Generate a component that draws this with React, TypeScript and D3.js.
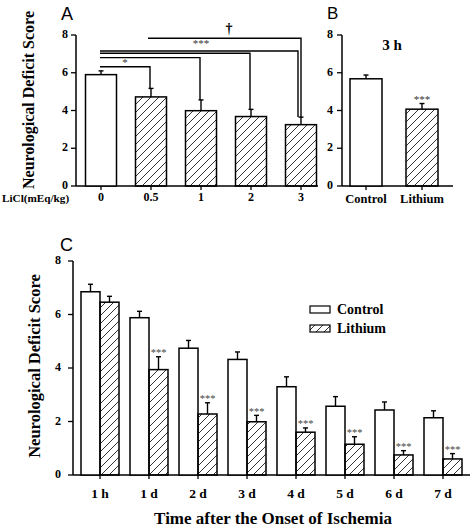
import React from "react";
import * as d3 from "d3";

const doses = ["0", "0.5", "1", "2", "3"];
const doseMeans = [5.9, 4.72, 3.99, 3.68, 3.25];
const doseErrs = [0.2, 0.45, 0.57, 0.38, 0.4];

const bGroups = ["Control", "Lithium"];
const bMeans = [5.68, 4.07];
const bErrs = [0.2, 0.3];
const bSig = ["", "***"];

const times = ["1 h", "1 d", "2 d", "3 d", "4 d", "5 d", "6 d", "7 d"];
const controlMeans = [6.85, 5.88, 4.74, 4.32, 3.3, 2.57, 2.43, 2.14];
const controlErrs = [0.28, 0.24, 0.29, 0.28, 0.37, 0.36, 0.3, 0.26];
const lithiumMeans = [6.46, 3.94, 2.28, 1.99, 1.6, 1.15, 0.75, 0.6];
const lithiumErrs = [0.22, 0.48, 0.42, 0.24, 0.16, 0.28, 0.16, 0.2];
const lithiumSig = ["", "***", "***", "***", "***", "***", "***", "***"];

const yTicks = [0, 2, 4, 6, 8];

// significance brackets for panel A: from dose, to dose, level (score units)
const brackets = [
  { from: "0", to: "0.5", level: 6.32, label: "*" },
  { from: "0", to: "1", level: 6.8, label: "" },
  { from: "0", to: "2", level: 7.03, label: "" },
  { from: "0", to: "3", level: 7.15, label: "***" },
  { from: "0.5", to: "3", level: 7.83, label: "\u2020" },
];

const SERIF = "'Liberation Serif', 'Times New Roman', serif";
const SANS = "'Liberation Sans', Arial, sans-serif";

function ErrBar({ x, y0, y1 }: { x: number; y0: number; y1: number }) {
  return (
    <g stroke="#000" strokeWidth={1.4}>
      <line x1={x} x2={x} y1={y0} y2={y1} />
      <line x1={x - 2.5} x2={x + 2.5} y1={y1} y2={y1} />
    </g>
  );
}

function YAxis({ x, y, tickLen = 5, gap = 3, fontSize = 12 }: { x: number; y: d3.ScaleLinear<number, number>; tickLen?: number; gap?: number; fontSize?: number }) {
  const [r0, r1] = y.range();
  return (
    <g>
      <line x1={x} x2={x} y1={r0} y2={r1} stroke="#000" strokeWidth={1.5} />
      {yTicks.map((t) => (
        <g key={t}>
          <line x1={x - tickLen} x2={x} y1={y(t)} y2={y(t)} stroke="#000" strokeWidth={1.3} />
          <text x={x - tickLen - gap} y={y(t) + 3} textAnchor="end" fontFamily={SERIF} fontWeight="bold" fontSize={fontSize}>
            {t}
          </text>
        </g>
      ))}
    </g>
  );
}

export default function App() {
  // Panel A
  const yA = d3.scaleLinear().domain([0, 8]).range([186, 35]);
  const xA = d3.scalePoint<string>().domain(doses).range([76, 326]).padding(0.5);
  const bwA = 31;

  // Panel B
  const xB = d3.scalePoint<string>().domain(bGroups).range([366, 422]);
  const bwB = 32;

  // Panel C
  const yC = d3.scaleLinear().domain([0, 8]).range([475, 261]);
  const xC = d3.scaleBand<string>().domain(times).range([75.5, 467.5]);
  const xSub = d3.scaleBand<string>().domain(["Control", "Lithium"]).range([5.5, 43.5]);
  const bwC = xSub.bandwidth();

  return (
    <div style={{ position: "absolute", left: 0, top: 0 }}>
      <svg width={471} height={529} style={{ display: "block", background: "#fff" }}>
        <defs>
          <pattern id="hatch" patternUnits="userSpaceOnUse" width={8} height={8}>
            <path d="M-2,2 l4,-4 M0,8 l8,-8 M6,10 l4,-4" stroke="#000" strokeWidth={0.8} />
          </pattern>
        </defs>

        {/* ---------- Panel A ---------- */}
        <text x={61} y={20} fontFamily={SANS} fontSize={18}>A</text>
        <text
          transform={`translate(34,${100}) rotate(-90)`}
          textAnchor="middle"
          fontFamily={SERIF}
          fontWeight="bold"
          fontSize={16}
        >
          Neurological Deficit Score
        </text>
        <YAxis x={76} y={yA} />
        <line x1={76} x2={318} y1={186} y2={186} stroke="#000" strokeWidth={1.5} />
        {doses.map((d, i) => {
          const cx = xA(d)!;
          return (
            <g key={d}>
              <ErrBar x={cx} y0={yA(doseMeans[i])} y1={yA(doseMeans[i] + doseErrs[i])} />
              <rect
                x={cx - bwA / 2}
                y={yA(doseMeans[i])}
                width={bwA}
                height={186 - yA(doseMeans[i])}
                fill={i === 0 ? "#fff" : "url(#hatch)"}
                stroke="#000"
                strokeWidth={1.5}
              />
              <line x1={cx} x2={cx} y1={186} y2={190} stroke="#000" strokeWidth={1.3} />
              <text x={cx} y={201} textAnchor="middle" fontFamily={SERIF} fontWeight="bold" fontSize={12}>
                {d}
              </text>
            </g>
          );
        })}
        <text x={2} y={202} fontFamily={SERIF} fontWeight="bold" fontSize={11.2}>LiCl(mEq/kg)</text>
        {brackets.map((b, k) => {
          const i = doses.indexOf(b.to);
          const isDagger = b.label === "\u2020";
          const x0 = isDagger ? xA(b.from)! - 3 : xA(b.from)! - 1;
          const x1 = xA(b.to)! + (b.to === "3" ? (isDagger ? 0 : -3) : -1);
          const yl = yA(b.level);
          const yEnd = yA(doseMeans[i] + doseErrs[i]);
          return (
            <g key={k}>
              <path d={`M${x0},${yl} H${x1} V${yEnd}`} fill="none" stroke="#000" strokeWidth={1.4} />
              {b.label === "*" && (
                <text x={(x0 + x1) / 2} y={yl - 1} textAnchor="middle" fontFamily={SERIF} fontSize={11} fill="#333">*</text>
              )}
              {b.label === "***" && (
                <text x={201} y={yA(7.6) + 4} textAnchor="middle" fontFamily={SERIF} fontSize={11} fill="#333">***</text>
              )}
              {isDagger && (
                <text x={229} y={33} textAnchor="middle" fontFamily={SERIF} fontWeight="bold" fontSize={14}>{"\u2020"}</text>
              )}
            </g>
          );
        })}

        {/* ---------- Panel B ---------- */}
        <text x={327} y={19} fontFamily={SANS} fontSize={17}>B</text>
        <YAxis x={342} y={yA} gap={4} />
        <line x1={342} x2={453} y1={186} y2={186} stroke="#000" strokeWidth={1.5} />
        <text x={392} y={50} textAnchor="middle" fontFamily={SERIF} fontWeight="bold" fontSize={15}>3 h</text>
        {bGroups.map((g, i) => {
          const cx = xB(g)!;
          const top = yA(bMeans[i] + bErrs[i]);
          return (
            <g key={g}>
              <ErrBar x={cx} y0={yA(bMeans[i])} y1={top} />
              <rect
                x={cx - bwB / 2}
                y={yA(bMeans[i])}
                width={bwB}
                height={186 - yA(bMeans[i])}
                fill={i === 0 ? "#fff" : "url(#hatch)"}
                stroke="#000"
                strokeWidth={1.5}
              />
              <line x1={cx} x2={cx} y1={186} y2={190} stroke="#000" strokeWidth={1.3} />
              <text x={cx} y={203} textAnchor="middle" fontFamily={SERIF} fontWeight="bold" fontSize={12.5}>{g}</text>
              {bSig[i] && (
                <text x={cx} y={top - 1} textAnchor="middle" fontFamily={SERIF} fontSize={11} fill="#333">{bSig[i]}</text>
              )}
            </g>
          );
        })}

        {/* ---------- Panel C ---------- */}
        <text x={60} y={251} fontFamily={SANS} fontSize={18}>C</text>
        <text
          transform={`translate(40,${366}) rotate(-90)`}
          textAnchor="middle"
          fontFamily={SERIF}
          fontWeight="bold"
          fontSize={16.5}
        >
          Neurological Deficit Score
        </text>
        <YAxis x={73} y={yC} gap={7} />
        <line x1={73} x2={470} y1={475} y2={475} stroke="#000" strokeWidth={1.5} />
        {times.map((t, i) => {
          const g0 = xC(t)!;
          const cx = g0 + xC.bandwidth() / 2;
          const xc = g0 + xSub("Control")!;
          const xl = g0 + xSub("Lithium")!;
          const lTop = yC(lithiumMeans[i] + lithiumErrs[i]);
          return (
            <g key={t}>
              <ErrBar x={xc + bwC / 2} y0={yC(controlMeans[i])} y1={yC(controlMeans[i] + controlErrs[i])} />
              <ErrBar x={xl + bwC / 2} y0={yC(lithiumMeans[i])} y1={lTop} />
              <rect x={xc} y={yC(controlMeans[i])} width={bwC} height={475 - yC(controlMeans[i])} fill="#fff" stroke="#000" strokeWidth={1.5} />
              <rect x={xl} y={yC(lithiumMeans[i])} width={bwC} height={475 - yC(lithiumMeans[i])} fill="url(#hatch)" stroke="#000" strokeWidth={1.5} />
              <line x1={cx} x2={cx} y1={475} y2={479} stroke="#000" strokeWidth={1.3} />
              <text x={cx} y={498} textAnchor="middle" fontFamily={SERIF} fontWeight="bold" fontSize={13.5}>{t}</text>
              {lithiumSig[i] && (
                <text x={xl + bwC / 2} y={lTop - 0.5} textAnchor="middle" fontFamily={SERIF} fontSize={10.5} fill="#444">{lithiumSig[i]}</text>
              )}
            </g>
          );
        })}
        {/* legend */}
        <rect x={310} y={306} width={20} height={7} fill="#fff" stroke="#000" strokeWidth={1.2} />
        <text x={337} y={314} fontFamily={SERIF} fontWeight="bold" fontSize={14}>Control</text>
        <rect x={310} y={325} width={20} height={7} fill="url(#hatch)" stroke="#000" strokeWidth={1.2} />
        <text x={337} y={333} fontFamily={SERIF} fontWeight="bold" fontSize={14}>Lithium</text>

        <text x={273} y={524} textAnchor="middle" fontFamily={SERIF} fontWeight="bold" fontSize={17}>
          Time after the Onset of Ischemia
        </text>
      </svg>
    </div>
  );
}
